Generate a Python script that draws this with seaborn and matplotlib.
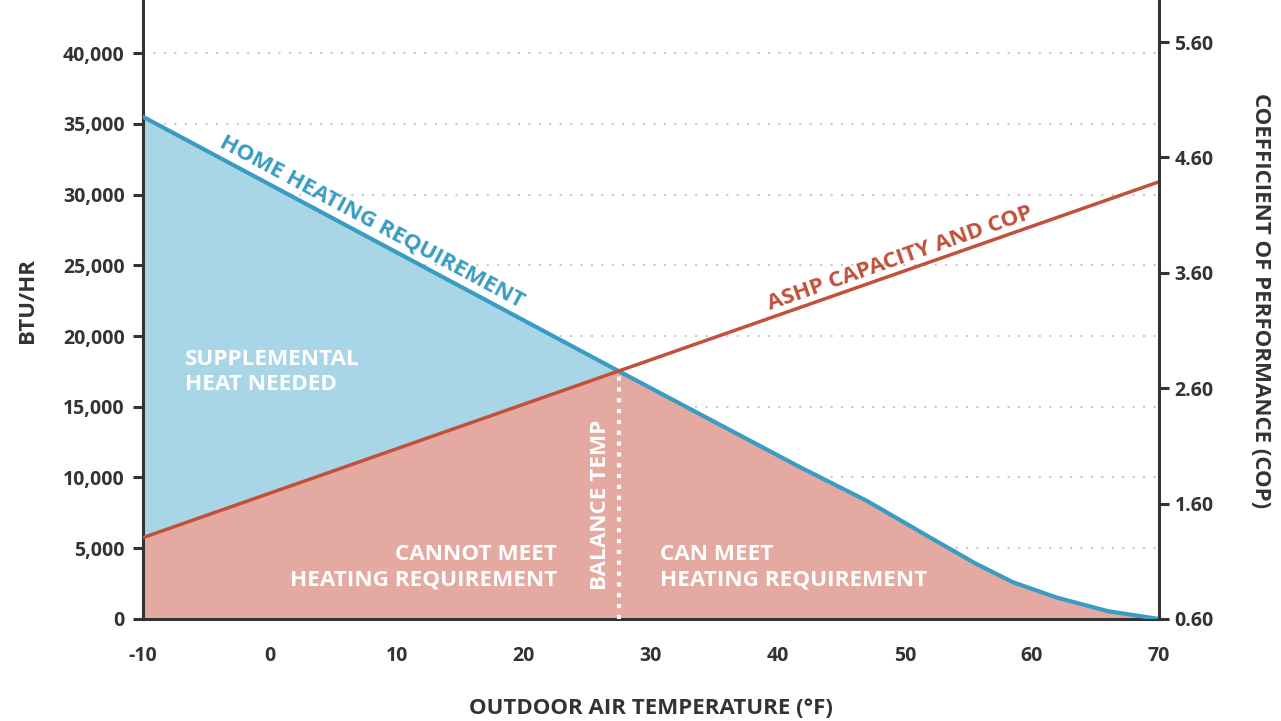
import numpy as np
import pandas as pd
import matplotlib
matplotlib.use('Agg')
import matplotlib.pyplot as plt
import seaborn as sns

# values
home_temp = [-10, 27.5, 41.7, 47, 52, 55.5, 58.5, 62, 66, 70]
home_btu = [35500, 17500, 10750, 8350, 5750, 3950, 2600, 1500, 550, 0]

ashp_temp = [-10, 70]
ashp_btu = [5750, 30900]

balance_temp = 27.5
btu_ticks = [0, 5000, 10000, 15000, 20000, 25000, 30000, 35000, 40000]
cop_ticks = [0.60, 1.60, 2.60, 3.60, 4.60, 5.60]
temp_ticks = [-10, 0, 10, 20, 30, 40, 50, 60, 70]

BLUE_LINE = '#3a9cc2'
BLUE_FILL = '#a9d6e6'
RED_LINE = '#c2503a'
RED_FILL = '#e4aaa1'
DARK = '#333333'

sns.set_theme(style='white')
plt.rcParams['font.family'] = ['Open Sans', 'DejaVu Sans']
plt.rcParams['axes.unicode_minus'] = False

fig = plt.figure(figsize=(12.81, 7.21), dpi=100)
ax = fig.add_axes([0.1116, 0.1415, 0.7931, 0.8585])

home = pd.DataFrame({'temp': home_temp, 'btu': home_btu})
ashp = pd.DataFrame({'temp': ashp_temp, 'btu': ashp_btu})

# capacity at the same temperatures (the capacity line is straight)
x = np.array(home_temp, dtype=float)
hb = np.array(home_btu, dtype=float)
ab = np.interp(x, ashp_temp, ashp_btu)

ax.fill_between(x, 0, np.minimum(hb, ab), color=RED_FILL, lw=0, zorder=2)
ax.fill_between(x, ab, hb, where=hb >= ab, interpolate=True,
                color=BLUE_FILL, lw=0, zorder=2)

sns.lineplot(data=home, x='temp', y='btu', ax=ax, color=BLUE_LINE,
             lw=3, zorder=4)
sns.lineplot(data=ashp, x='temp', y='btu', ax=ax, color=RED_LINE,
             lw=2.5, zorder=5)

# balance temperature marker
bal_btu = np.interp(balance_temp, ashp_temp, ashp_btu)
ax.plot([balance_temp, balance_temp], [0, bal_btu], color='white',
        lw=3, ls=(0, (1, 1.6)), zorder=3)

ax.set_xlim(-10, 70)
ax.set_ylim(0, 43750)
ax.set_xticks(temp_ticks)
ax.set_yticks(btu_ticks)
ax.set_yticklabels([f'{v:,}' for v in btu_ticks])
ax.yaxis.grid(True, color='#c9c9c9', ls=(0, (1, 4)), lw=1.5)
ax.set_axisbelow(True)

for s in ['top', 'right']:
    ax.spines[s].set_visible(False)
for s in ['left', 'bottom']:
    ax.spines[s].set_color(DARK)
    ax.spines[s].set_linewidth(2.2)

ax.tick_params(axis='both', direction='out', length=7.2, width=2.2,
               color=DARK, labelsize=14, labelcolor=DARK)
ax.tick_params(axis='x', pad=12)
ax.tick_params(axis='y', pad=6)
for lab in ax.get_xticklabels() + ax.get_yticklabels():
    lab.set_fontweight('bold')

ax.set_xlabel('OUTDOOR AIR TEMPERATURE (°F)', fontsize=16,
              fontweight='bold', color=DARK, labelpad=23)
ax.set_ylabel('BTU/HR', fontsize=16, fontweight='bold', color=DARK)
ax.yaxis.set_label_coords(-0.103, 0.514)

ax2 = ax.twinx()
ax2.set_ylim(0.6, 5.964)
ax2.set_yticks(cop_ticks)
ax2.set_yticklabels([f'{v:.2f}' for v in cop_ticks])
ax2.grid(False)
for s in ['top', 'left', 'bottom']:
    ax2.spines[s].set_visible(False)
ax2.spines['right'].set_color(DARK)
ax2.spines['right'].set_linewidth(2.2)
ax2.tick_params(axis='y', direction='out', length=7.2, width=2.2,
                color=DARK, labelsize=14, labelcolor=DARK, pad=4)
for lab in ax2.get_yticklabels():
    lab.set_fontweight('bold')
ax2.set_ylabel('COEFFICIENT OF PERFORMANCE (COP)', fontsize=16,
               fontweight='bold', color=DARK, rotation=-90)
ax2.yaxis.set_label_coords(1.110, 0.514)

# annotations
ax.text(8.0, 28050, 'HOME HEATING REQUIREMENT', color=BLUE_LINE,
        fontsize=16.2, fontweight='bold', rotation=-28.2,
        rotation_mode='anchor', ha='center', va='center', zorder=6)
ax.text(49.6, 25500, 'ASHP CAPACITY AND COP', color=RED_LINE,
        fontsize=16.2, fontweight='bold', rotation=19.3,
        rotation_mode='anchor', ha='center', va='center', zorder=6)
ax.text(-6.7, 17450, 'SUPPLEMENTAL\nHEAT NEEDED', color='white',
        fontsize=16.2, fontweight='bold', ha='left', va='center',
        linespacing=1.25, zorder=6)
ax.text(22.6, 3650, 'CANNOT MEET\nHEATING REQUIREMENT', color='white',
        fontsize=16.2, fontweight='bold', ha='right', va='center',
        multialignment='right', linespacing=1.25, zorder=6)
ax.text(30.7, 3650, 'CAN MEET\nHEATING REQUIREMENT', color='white',
        fontsize=16.2, fontweight='bold', ha='left', va='center',
        linespacing=1.25, zorder=6)
ax.text(26.0, 8050, 'BALANCE TEMP', color='white', fontsize=16.2,
        fontweight='bold', rotation=90, ha='center', va='center',
        zorder=6)

fig.savefig('out.png', dpi=100)
